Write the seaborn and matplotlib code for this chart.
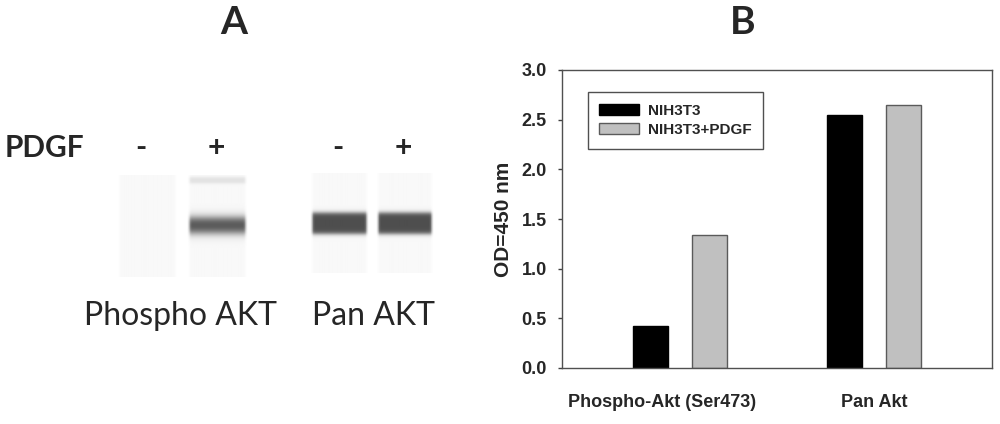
import numpy as np
import pandas as pd
import seaborn as sns
import matplotlib.pyplot as plt
import matplotlib.transforms as mtransforms
from matplotlib.patches import Patch

# panel B data
targets = ['Phospho-Akt (Ser473)', 'Pan Akt']
cell_lines = ['NIH3T3', 'NIH3T3+PDGF']
od_nih3t3 = [0.42, 2.55]
od_pdgf = [1.34, 2.65]

# panel A data (band darkness per lane, 0 = empty, 1 = black)
lane_signs = ['-', '+', '-', '+']
lane_groups = ['Phospho AKT', 'Pan AKT']
main_band = [0.0, 0.68, 0.67, 0.67]
upper_band = [0.0, 0.09, 0.0, 0.0]

df = pd.DataFrame({
    'target': targets * 2,
    'line': [cell_lines[0]] * 2 + [cell_lines[1]] * 2,
    'od': od_nih3t3 + od_pdgf,
})

sns.set_theme(style='white')
plt.rcParams['font.family'] = ['Liberation Sans', 'DejaVu Sans']
calibri_like = ['Lato', 'DejaVu Sans']

fig = plt.figure(figsize=(10, 4.24), dpi=100)

# ---------- panel A: gel lanes ----------
ax_a = fig.add_axes([0, 0, 0.48, 1])
ax_a.set_xlim(0, 480)
ax_a.set_ylim(424, 0)
ax_a.axis('off')

lane_x = [(117, 178), (187, 248), (310, 369), (376, 434)]
lane_y = [(175, 277), (175, 277), (173, 273), (173, 273)]
band_c = [225, 225, 223, 223]
band_h = [15, 15, 21, 21]
band_s = [5.0, 5.0, 2.5, 2.5]

def box(y, c, h, s):
    return 0.5 * (np.tanh((y - (c - h / 2)) / s) - np.tanh((y - (c + h / 2)) / s))

for i in range(4):
    y0, y1 = lane_y[i]
    yy = np.arange(y0, y1, 0.5)
    dark = 0.025 + main_band[i] * box(yy, band_c[i], band_h[i], band_s[i])
    dark += upper_band[i] * box(yy, 180, 6, 1.5)
    img = 1 - np.clip(dark, 0, 1)
    img = np.tile(img[:, None], (1, 40))
    # soft lane edges
    xx = np.linspace(0, 1, 40)
    edge = 0.5 * (np.tanh((xx - 0.03) / 0.02) - np.tanh((xx - 0.97) / 0.02))
    img = 1 - (1 - img) * edge[None, :]
    ax_a.imshow(img, cmap='gray', vmin=0, vmax=1, aspect='auto',
                extent=(lane_x[i][0], lane_x[i][1], y1, y0), interpolation='bilinear')

ax_a.text(5, 148, 'PDGF', fontsize=21.5, fontweight='bold', family=calibri_like,
          ha='left', va='center')
for xs, sign in zip([141, 216, 338, 403], lane_signs):
    ax_a.text(xs, 148, sign, fontsize=21.5, fontweight='bold', family=calibri_like,
              ha='center', va='center')
for xs, name in zip([181, 373], lane_groups):
    ax_a.text(xs, 316, name, fontsize=23, family=calibri_like,
              ha='center', va='center')

fig.text(0.234, 1 - 22 / 424, 'A', fontsize=28, fontweight='bold',
         family=calibri_like, ha='center', va='center')
fig.text(0.743, 1 - 22 / 424, 'B', fontsize=28, fontweight='bold',
         family=calibri_like, ha='center', va='center')

# ---------- panel B: bar chart ----------
ax = fig.add_axes([0.562, 1 - 368 / 424, 0.430, 298 / 424])
sns.barplot(data=df, x='target', y='od', hue='line', order=targets, hue_order=cell_lines,
            palette=['#000000', '#c0c0c0'], width=0.608, gap=0.41, saturation=1,
            legend=False, ax=ax)
for bar, ec in zip(ax.patches, ['#000000'] * 2 + ['#5a5a5a'] * 2):
    bar.set_edgecolor(ec)
    bar.set_linewidth(1.0)

ax.set_xlim(-0.608, 1.608)
ax.set_ylim(0, 3.0)
ax.set_yticks(np.arange(0, 3.01, 0.5))
ax.set_yticklabels([f'{v:.1f}' for v in np.arange(0, 3.01, 0.5)],
                   fontsize=13, fontweight='bold')
ax.set_xticks([0, 1])
ax.set_xticklabels(targets, fontsize=13, fontweight='bold')
ax.tick_params(axis='y', length=3, width=1, direction='out', pad=8, color='#404040', left=True)
ax.tick_params(axis='x', length=0, pad=19)
# the first category label sits a bit left of its bars in the original
shift = mtransforms.ScaledTranslation(-18 / 100, 0, fig.dpi_scale_trans)
lbl = ax.get_xticklabels()[0]
lbl.set_transform(lbl.get_transform() + shift)
ax.set_xlabel('')
ax.set_ylabel('OD=450 nm', fontsize=15, fontweight='bold', labelpad=6)
for sp in ax.spines.values():
    sp.set_visible(True)
    sp.set_color('#505050')
    sp.set_linewidth(1.0)

handles = [Patch(facecolor='#000000', edgecolor='#000000'),
           Patch(facecolor='#c0c0c0', edgecolor='#5a5a5a')]
leg = ax.legend(handles, cell_lines, loc='upper left', bbox_to_anchor=(0.06, 0.925),
                fancybox=False, edgecolor='#505050', framealpha=1,
                prop={'size': 11, 'weight': 'bold'}, handlelength=2.6, handleheight=0.7,
                borderpad=0.75, labelspacing=0.35, handletextpad=0.6, borderaxespad=0)
leg.get_frame().set_linewidth(1.0)

fig.savefig('out.png', dpi=100)
